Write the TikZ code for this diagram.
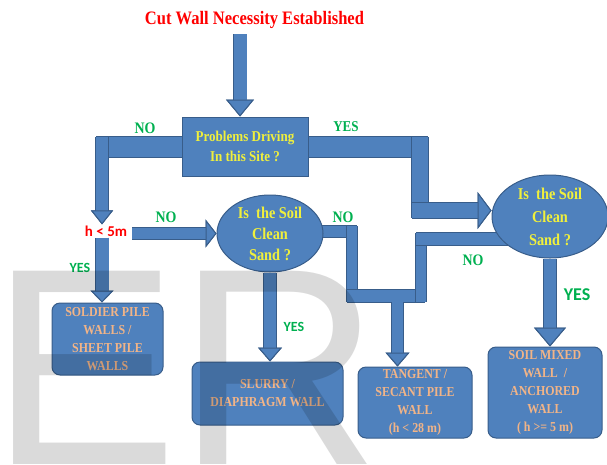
\documentclass[tikz,border=0pt]{standalone}
\usepackage{fontspec}
\setmainfont{Liberation Serif}
\newfontfamily\condfont{Liberation Serif}[FakeStretch=0.87]
\newfontfamily\calfont{Carlito}
\newfontfamily\markfont{Liberation Sans}
\usetikzlibrary{
  arrows.meta,
  positioning,
  shapes.geometric
}
\definecolor{flowblue}{RGB}{79,129,189}
\definecolor{flowedge}{RGB}{56,93,138}
\definecolor{qyellow}{RGB}{240,240,60}
\definecolor{walltan}{RGB}{242,180,135}
\definecolor{okgreen}{RGB}{0,176,80}
\definecolor{markgray}{RGB}{218,218,218}
\pgfdeclarelayer{background}
\pgfsetlayers{background,main}

\begin{document}
\begin{tikzpicture}[x=1pt, y=-1pt,
  question/.style={draw=flowedge, fill=flowblue, line width=1pt, text=qyellow,
    font=\condfont\bfseries\fontsize{15}{20}\selectfont, align=center, inner sep=0pt},
  soilq/.style={question, ellipse, minimum width=106pt, minimum height=77pt,
    font=\condfont\bfseries\fontsize{16.5}{21}\selectfont},
  wallbox/.style={draw=flowedge, fill=flowblue, line width=1pt, rounded corners=8pt,
    text=walltan, font=\condfont\bfseries\fontsize{13.7}{18}\selectfont,
    align=center, inner sep=0pt},
  answer/.style={text=okgreen, font=\condfont\bfseries\fontsize{16}{18}\selectfont, inner sep=0pt},
  answersans/.style={text=okgreen, font=\calfont\bfseries\fontsize{14}{16}\selectfont, inner sep=0pt},
  pipe/.style={line width=#1, draw=flowblue,
    preaction={draw=flowedge, line width=#1+1.6pt}},
  pipe/.default=12pt,
  arrowpipe/.style n args={3}{pipe=#1,
    -{Triangle[length=#2, width=#3, line width=1pt, color=flowedge, fill=flowblue]}}
]
  \useasboundingbox (0,0) rectangle (607,464);

  % questions
  \node[text=red, inner sep=0pt, font=\condfont\bfseries\fontsize{19}{21}\selectfont]
    (title) at (254.5,20) {Cut Wall Necessity Established};
  \node[question, minimum width=126pt, minimum height=59pt] (prob) at (245,146.5)
    {Problems Driving\\In this Site ?};
  \node[text=red, inner sep=1pt, font=\calfont\bfseries\fontsize{15}{17}\selectfont]
    (hlim) at (106,231) {h < 5m};
  \node[soilq] (soilA) at (270,233.5) {Is\ \ the Soil\\Clean\\Sand ?};
  \node[soilq, minimum width=116pt, minimum height=83pt,
    font=\condfont\bfseries\fontsize{16.5}{23}\selectfont] (soilB) at (550,216.5)
    {Is\ \ the Soil\\Clean\\Sand ?};

  % walls
  \node[wallbox, minimum width=111pt, minimum height=72pt] (soldier) at (107.5,339)
    {SOLDIER PILE\\WALLS /\\SHEET PILE\\WALLS};
  \node[wallbox, minimum width=151pt, minimum height=63pt] (slurry) at (267.5,393.5)
    {SLURRY /\\DIAPHRAGM WALL};
  \node[wallbox, minimum width=114pt, minimum height=71pt] (tangent) at (415,402.5)
    {TANGENT /\\SECANT PILE\\WALL\\(h < 28 m)};
  \node[wallbox, minimum width=114pt, minimum height=91pt] (mixed) at (545,392.5)
    {SOIL MIXED\\WALL\ \ /\\ANCHORED\\WALL\\(\ h >= 5 m)};

  % answers
  \node[answer] (noA) at (145,128) {NO};
  \node[answer, font=\condfont\bfseries\fontsize{15}{17}\selectfont] (yesA) at (346,127) {YES};
  \node[answer] (noB) at (166,217) {NO};
  \node[answer] (noC) at (343,217) {NO};
  \node[answer] (noD) at (473,260) {NO};
  \node[answersans] (yesB) at (80,268) {YES};
  \node[answersans] (yesC) at (294,327) {YES};
  \node[answersans, font=\calfont\bfseries\fontsize{18}{20}\selectfont] (yesD) at (577,295) {YES};

  % bends of the pipes
  \coordinate (noturn) at (96,147);
  \coordinate (nodrop) at (102,137);
  \coordinate (yesturn) at (428,147);
  \coordinate (yesdrop) at (420,137);
  \coordinate (yesfoot) at (420,218);
  \coordinate (yesbend) at (412,210.5);
  \coordinate (hgo) at (132,231);
  \coordinate (aturn) at (357,231.5);
  \coordinate (adrop) at (352,226);
  \coordinate (afoot) at (352,302);
  \coordinate (bleft) at (347,296);
  \coordinate (bright) at (425,296);
  \coordinate (brise) at (421,302);
  \coordinate (btop) at (421,233);
  \coordinate (bturn) at (416,239);
  \coordinate (tdrop) at (397.5,302);
  \coordinate (start) at (240,34);

  \begin{pgfonlayer}{background}
    \draw[arrowpipe={13pt}{17pt}{28pt}] (start) -- (start |- prob.north);
    % NO
    \draw[pipe=20pt] (prob.center |- noturn) -- (noturn);
    \draw[arrowpipe={12pt}{14pt}{22pt}] (nodrop) -- (nodrop |- hlim.north);
    \draw[arrowpipe={11pt}{11pt}{28pt}] (hgo |- soilA.west) -- (soilA.west);
    \draw[arrowpipe={13pt}{12pt}{23pt}] (nodrop |- hlim.south) -- (nodrop |- soldier.north);
    \draw[arrowpipe={12pt}{14pt}{24pt}] (soilA.south) -- (soilA.south |- slurry.north);
    % YES
    \draw[pipe=20pt] (prob.center |- yesturn) -- (yesturn);
    \draw[pipe=16pt] (yesdrop) -- (yesfoot);
    \draw[arrowpipe={15pt}{14pt}{37pt}] (yesbend) -- (yesbend -| soilB.west);
    \draw[arrowpipe={12pt}{19pt}{32pt}] (soilB.south) -- (soilB.south |- mixed.north);
    % NO from both soils
    \draw[pipe=11pt] (soilA.center |- aturn) -- (aturn);
    \draw[pipe=10pt] (adrop) -- (afoot);
    \draw[pipe=12pt] (bleft) -- (bright);
    \draw[pipe=10pt] (brise) -- (btop);
    \draw[pipe=12pt] (bturn) -- (bturn -| soilB.center);
    \draw[arrowpipe={11pt}{14pt}{24pt}] (tdrop) -- (tdrop |- tangent.north);
  \end{pgfonlayer}

  % watermark
  \begin{scope}[blend mode=multiply]
    \node[anchor=base west, inner sep=0pt, text=markgray,
      font=\markfont\fontsize{281}{281}\selectfont] (mark) at (-10,464) {ER};
  \end{scope}
\end{tikzpicture}
\end{document}
